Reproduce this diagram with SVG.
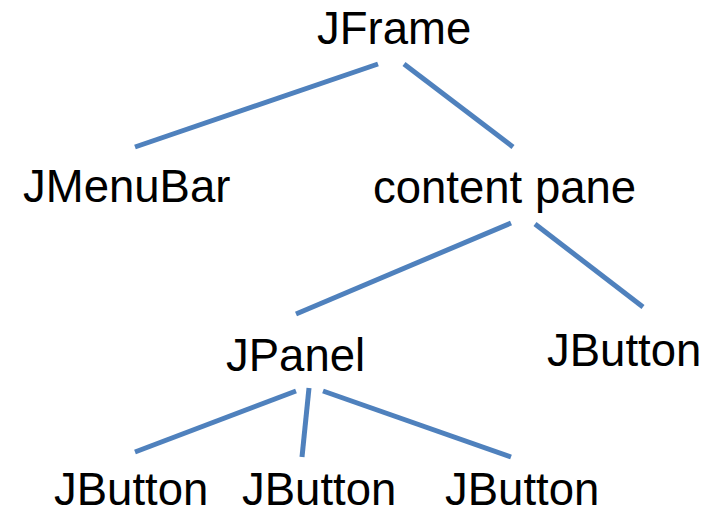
<svg xmlns="http://www.w3.org/2000/svg" width="715" height="510" viewBox="0 0 715 510">
  <style>
    .label { font-family: "Liberation Sans", Arial, sans-serif; font-size: 45.5px; fill: #000; }
    .edge { stroke: #4F81BD; stroke-width: 5; fill: none; }
  </style>
  <rect width="715" height="510" fill="#fff"/>
  <g id="connectors">
    <line class="edge" x1="378" y1="64" x2="135" y2="147"/>
    <line class="edge" x1="404" y1="64" x2="513" y2="147"/>
    <line class="edge" x1="511" y1="223" x2="296" y2="314"/>
    <line class="edge" x1="535" y1="224" x2="643" y2="307"/>
    <line class="edge" x1="296" y1="391" x2="135" y2="452"/>
    <line class="edge" x1="309" y1="388" x2="302" y2="457"/>
    <line class="edge" x1="323" y1="391" x2="511" y2="457"/>
  </g>
  <g id="jframe"><text class="label" x="317" y="44">JFrame</text></g>
  <g id="jmenubar"><text class="label" x="23" y="202">JMenuBar</text></g>
  <g id="content-pane"><text class="label" x="373" y="203">content pane</text></g>
  <g id="jpanel"><text class="label" x="226" y="371">JPanel</text></g>
  <g id="jbutton-right"><text class="label" x="547" y="366">JButton</text></g>
  <g id="jbutton-1"><text class="label" x="54" y="505">JButton</text></g>
  <g id="jbutton-2"><text class="label" x="242" y="505">JButton</text></g>
  <g id="jbutton-3"><text class="label" x="445" y="505">JButton</text></g>
</svg>
